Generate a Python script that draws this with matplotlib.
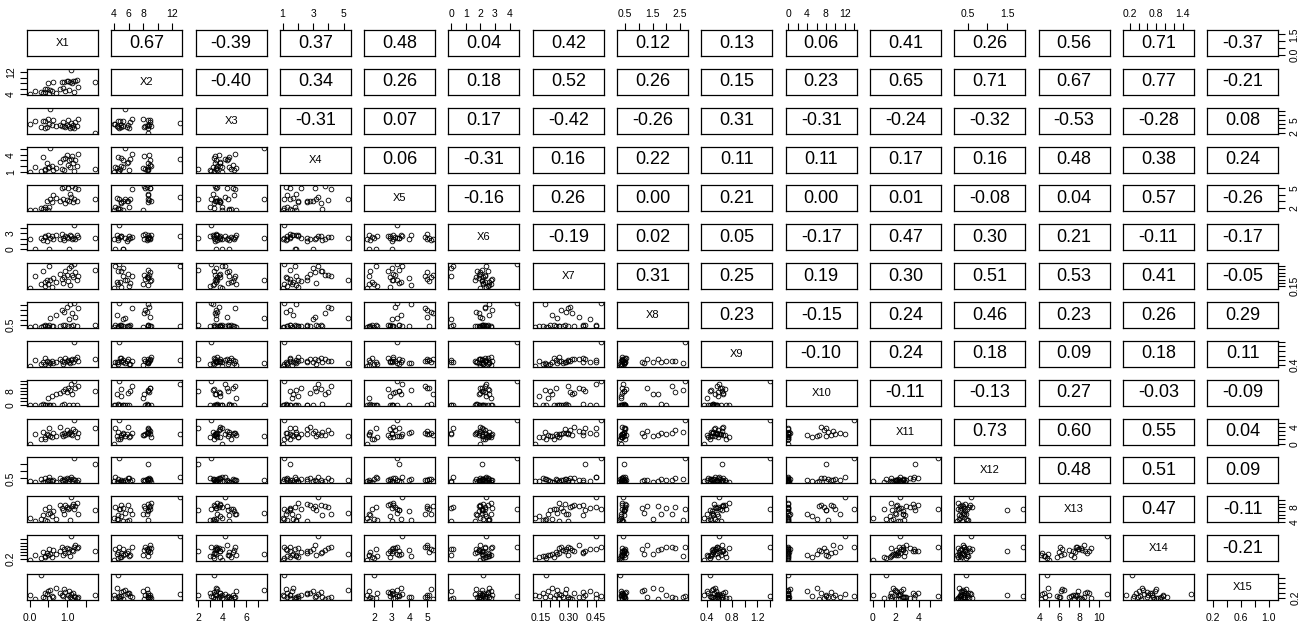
import numpy as np
import matplotlib
matplotlib.use("Agg")
import matplotlib.pyplot as plt

plt.rcParams['font.family'] = ['Liberation Sans', 'DejaVu Sans']

names = ['X%d' % i for i in range(1, 16)]

x1 = [0.00, 0.15, 0.30, 0.35, 0.40, 0.42, 0.45, 0.50, 0.52, 0.55, 0.60, 0.62, 0.70, 0.80, 0.85,
      0.88, 0.92, 0.95, 1.00, 1.02, 1.05, 1.08, 1.10, 1.12, 1.15, 1.18, 1.20, 1.25, 1.30, 1.75]
x2 = [4.0, 5.2, 4.6, 4.5, 6.0, 4.8, 5.8, 8.0, 4.2, 5.5, 5.0, 8.6, 4.4, 5.9, 8.3,
      6.2, 8.5, 4.9, 8.8, 9.0, 5.3, 8.6, 13.0, 8.1, 8.7, 4.7, 8.9, 9.1, 6.5, 8.6]
x3 = [4.0, 4.6, 3.3, 4.6, 3.0, 4.7, 3.4, 5.2, 4.0, 7.5, 3.8, 5.0, 3.5, 3.8, 3.5,
      4.5, 3.6, 3.3, 3.7, 4.9, 3.5, 3.2, 4.2, 3.4, 3.8, 3.1, 4.4, 3.6, 5.1, 2.0]
x4 = [1.0, 1.9, 1.1, 3.6, 1.3, 1.5, 2.6, 1.6, 1.8, 5.3, 2.0, 1.3, 1.7, 2.8, 1.5,
      3.2, 1.2, 3.5, 4.0, 2.2, 3.0, 1.9, 3.3, 3.8, 2.6, 1.1, 3.1, 2.0, 4.2, 1.5]
x5 = [1.6, 1.7, 2.0, 1.8, 2.2, 1.9, 3.0, 1.7, 2.1, 3.3, 2.9, 4.0, 3.5, 3.1, 5.0,
      3.4, 5.2, 2.8, 3.2, 5.1, 3.0, 4.1, 3.6, 5.3, 2.9, 3.3, 5.0, 3.1, 4.9, 3.4]
x6 = [2.0, 0.0, 2.2, 1.8, 2.5, 2.3, 1.6, 2.7, 0.1, 2.1, 2.4, 1.9, 2.6, 2.0, 2.8,
      2.2, 1.7, 2.5, 2.3, 2.1, 0.0, 2.6, 2.4, 1.9, 2.2, 4.5, 2.0, 2.7, 2.3, 2.1]
x7 = [0.12, 0.30, 0.18, 0.38, 0.16, 0.22, 0.25, 0.19, 0.45, 0.24, 0.14, 0.27, 0.21, 0.33, 0.26,
      0.20, 0.29, 0.38, 0.31, 0.23, 0.42, 0.17, 0.45, 0.32, 0.28, 0.48, 0.36, 0.25, 0.30, 0.39]
x8 = [0.35, 0.40, 0.30, 0.45, 0.38, 0.50, 0.42, 0.33, 0.48, 1.20, 0.36, 0.44, 1.50, 0.40, 2.00,
      0.46, 1.80, 0.52, 2.30, 0.39, 1.10, 2.60, 0.43, 1.70, 0.50, 2.70, 1.30, 0.37, 2.20, 0.47]
x9 = [0.35, 0.62, 0.45, 0.50, 0.42, 0.70, 0.55, 0.40, 0.52, 0.47, 0.58, 0.48, 0.53, 0.65, 0.56,
      0.44, 0.50, 0.68, 0.57, 0.61, 0.54, 0.46, 0.59, 0.66, 0.51, 1.40, 0.63, 0.75, 0.55, 0.64]
x10 = [0, 0, 0, 0.2, 0, 0, 0, 4.0, 0, 0, 5.0, 0, 6.0, 7.0, 0,
       8.0, 0.3, 9.0, 7.5, 10.0, 0, 8.5, 12.0, 6.5, 0, 14.0, 9.5, 0, 11.0, 8.0]
x11 = [0.0, 2.2, 1.2, 2.8, 1.6, 1.0, 2.4, 2.0, 3.6, 1.9, 1.5, 2.6, 1.8, 3.9, 2.3,
       1.7, 2.6, 2.1, 3.2, 2.2, 2.5, 2.7, 2.4, 2.0, 3.5, 5.7, 2.9, 1.6, 2.6, 3.7]
x12 = [0.30, 0.22, 0.45, 0.28, 0.50, 0.25, 0.35, 0.40, 0.60, 0.38, 0.33, 0.42, 0.27, 0.55, 0.39,
       0.30, 0.44, 0.36, 0.52, 0.48, 0.32, 0.47, 0.58, 0.29, 0.43, 1.90, 0.37, 0.26, 0.41, 1.50]
x13 = [5.0, 4.2, 4.8, 6.0, 4.5, 7.5, 4.3, 6.2, 8.0, 6.5, 5.8, 7.0, 4.9, 8.6, 7.8,
       7.2, 6.3, 8.8, 8.2, 7.6, 7.9, 4.6, 10.8, 8.3, 9.0, 7.7, 8.5, 9.2, 6.1, 7.4]
x14 = [0.10, 0.45, 0.25, 0.60, 0.35, 0.28, 0.52, 0.40, 0.80, 0.50, 0.30, 0.72, 0.48, 0.70, 0.95,
       0.42, 0.80, 0.58, 0.85, 0.62, 0.78, 0.38, 1.60, 0.76, 0.66, 0.95, 1.05, 0.88, 0.92, 0.70]
x15 = [0.30, 0.15, 1.10, 0.25, 0.40, 0.20, 0.35, 0.45, 0.18, 0.50, 0.28, 0.22, 0.60, 0.38, 0.32,
       0.26, 0.55, 0.42, 0.20, 0.30, 0.48, 0.24, 0.35, 0.17, 0.40, 0.28, 0.22, 0.19, 0.25, 0.33]
data = [x1, x2, x3, x4, x5, x6, x7, x8, x9, x10, x11, x12, x13, x14, x15]

# correlation labels shown in the upper panels, row by row
corr_rows = [
    [0.67, -0.39, 0.37, 0.48, 0.04, 0.42, 0.12, 0.13, 0.06, 0.41, 0.26, 0.56, 0.71, -0.37],
    [-0.40, 0.34, 0.26, 0.18, 0.52, 0.26, 0.15, 0.23, 0.65, 0.71, 0.67, 0.77, -0.21],
    [-0.31, 0.07, 0.17, -0.42, -0.26, 0.31, -0.31, -0.24, -0.32, -0.53, -0.28, 0.08],
    [0.06, -0.31, 0.16, 0.22, 0.11, 0.11, 0.17, 0.16, 0.48, 0.38, 0.24],
    [-0.16, 0.26, 0.00, 0.21, 0.00, 0.01, -0.08, 0.04, 0.57, -0.26],
    [-0.19, 0.02, 0.05, -0.17, 0.47, 0.30, 0.21, -0.11, -0.17],
    [0.31, 0.25, 0.19, 0.30, 0.51, 0.53, 0.41, -0.05],
    [0.23, -0.15, 0.24, 0.46, 0.23, 0.26, 0.29],
    [-0.10, 0.24, 0.18, 0.09, 0.18, 0.11],
    [-0.11, -0.13, 0.27, -0.03, -0.09],
    [0.73, 0.60, 0.55, 0.04],
    [0.48, 0.51, 0.09],
    [0.47, -0.11],
    [-0.21],
]

# axis ticks per variable, labels for the x side (top/bottom) and y side (left/right)
ticks = [
    [0.0, 0.5, 1.0, 1.5],
    [4, 6, 8, 10, 12],
    [2, 3, 4, 5, 6, 7],
    [1, 2, 3, 4, 5],
    [2, 3, 4, 5],
    [0, 1, 2, 3, 4],
    [0.15, 0.20, 0.25, 0.30, 0.35, 0.40, 0.45],
    [0.5, 1.0, 1.5, 2.0, 2.5],
    [0.4, 0.6, 0.8, 1.0, 1.2, 1.4],
    [0, 2, 4, 6, 8, 10, 12, 14],
    [0, 1, 2, 3, 4, 5],
    [0.5, 1.0, 1.5],
    [4, 5, 6, 7, 8, 9, 10],
    [0.2, 0.4, 0.6, 0.8, 1.0, 1.2, 1.4],
    [0.2, 0.4, 0.6, 0.8, 1.0],
]
xlabels = [
    ['0.0', '', '1.0', ''],
    ['4', '6', '8', '', '12'],
    ['2', '', '4', '', '6', ''],
    ['1', '', '3', '', '5'],
    ['2', '3', '4', '5'],
    ['0', '1', '2', '3', '4'],
    ['0.15', '', '', '0.30', '', '', '0.45'],
    ['0.5', '', '1.5', '', '2.5'],
    ['0.4', '', '0.8', '', '1.2', ''],
    ['0', '', '4', '', '8', '', '12', ''],
    ['0', '', '2', '', '4', ''],
    ['0.5', '', '1.5'],
    ['4', '', '6', '', '8', '', '10'],
    ['0.2', '', '', '0.8', '', '', '1.4'],
    ['0.2', '', '0.6', '', '1.0'],
]
ylabels = [
    ['0.0', '', '', '1.5'],
    ['4', '', '', '', '12'],
    ['2', '', '', '5', '', ''],
    ['1', '', '', '4', ''],
    ['2', '', '', '5'],
    ['0', '', '', '3', ''],
    ['0.15', '', '', '', '', '', ''],
    ['0.5', '', '', '', ''],
    ['0.4', '', '', '', '', ''],
    ['0', '', '', '', '8', '', '', ''],
    ['0', '', '', '', '4', ''],
    ['0.5', '', ''],
    ['4', '', '', '', '8', '', ''],
    ['0.2', '', '', '', '', '', ''],
    ['0.2', '', '', '', ''],
]

W, H = 1309, 628
fig = plt.figure(figsize=(W / 100, H / 100), dpi=100)

n = len(names)
left0, top0 = 27, 30
pitch_x, pitch_y = 84.3, 38.86
pw, ph = 71, 26

lims = []
for v in data:
    lo, hi = min(v), max(v)
    pad = (hi - lo) * 0.04
    lims.append((lo - pad, hi + pad))

for i in range(n):
    for j in range(n):
        x0 = left0 + j * pitch_x
        y0 = top0 + i * pitch_y
        ax = fig.add_axes([x0 / W, 1 - (y0 + ph) / H, pw / W, ph / H])
        ax.set_xlim(lims[j])
        ax.set_ylim(lims[i])
        for s in ax.spines.values():
            s.set_linewidth(0.9)
        ax.tick_params(which='both', bottom=False, top=False, left=False, right=False,
                       labelbottom=False, labeltop=False, labelleft=False, labelright=False,
                       direction='out', length=5, width=0.8, labelsize=7.5, pad=3)
        if i == j:
            ax.text(0.5, 0.5, names[i], transform=ax.transAxes, ha='center', va='center', fontsize=8)
        elif i < j:
            r = corr_rows[i][j - i - 1]
            ax.text(0.5, 0.5, '%.2f' % r, transform=ax.transAxes, ha='center', va='center', fontsize=13)
        else:
            ax.plot(data[j], data[i], 'o', mfc='none', mec='black', ms=3.4, mew=0.6)

        # outer axes alternate sides like R's pairs()
        if i == 0 and j % 2 == 1:
            ax.set_xticks(ticks[j])
            ax.set_xticklabels(xlabels[j])
            ax.tick_params(top=True, labeltop=True)
        if i == n - 1 and j % 2 == 0:
            ax.set_xticks(ticks[j])
            ax.set_xticklabels(xlabels[j])
            ax.tick_params(bottom=True, labelbottom=True, pad=4)
        if j == 0 and i % 2 == 1:
            ax.set_yticks(ticks[i])
            ax.set_yticklabels(ylabels[i], rotation=90, va='center')
            ax.tick_params(left=True, labelleft=True)
        if j == n - 1 and i % 2 == 0:
            ax.set_yticks(ticks[i])
            ax.set_yticklabels(ylabels[i], rotation=90, va='center')
            ax.tick_params(right=True, labelright=True)

fig.savefig('out.png', dpi=100)
